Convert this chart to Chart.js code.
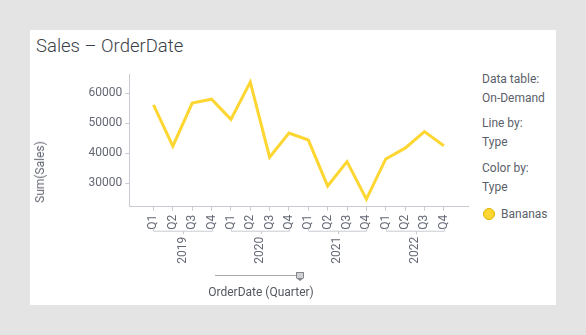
<!DOCTYPE html>
<html>
<head>
<meta charset="utf-8">
<script src="https://cdn.jsdelivr.net/npm/chart.js@4"></script>
<style>
    body { margin: 0; background: #e4e4e4; font-family: Roboto, "Noto Sans", sans-serif; }
    .panel { position: absolute; left: 30px; top: 30px; width: 526px; height: 275px; background: #fff; }
    .title { position: absolute; left: 6px; top: 5px; font-size: 18.5px; font-weight: 300; color: #3c3f48; }
    #chartBox { position: absolute; left: 0; top: 0; width: 450px; height: 260px; }
    .ytitle { position: absolute; left: 10px; top: 142px; font-size: 12px; color: #646874;
              transform: translate(-50%, -50%) rotate(-90deg); white-space: nowrap; }
    .legend { position: absolute; left: 452px; top: 0; font-size: 12px; color: #5b5f6a; }
    .legend div { position: absolute; white-space: nowrap; line-height: 14px; }
    .dot { width: 12px; height: 12px; border-radius: 50%; background: #fdd631; border: 1px solid #e0b400; box-sizing: border-box; }
    .slider-line { position: absolute; left: 185px; top: 245px; width: 82px; height: 1px; background: #a9a9a9; }
    .slider-handle { position: absolute; left: 266px; top: 242px; width: 6px; height: 5px; background: #cfd0d3;
                     border: 1px solid #85878c; border-bottom: none; border-radius: 1px 1px 0 0; }
    .slider-tip { position: absolute; left: 266px; top: 248px; width: 0; height: 0;
                  border-left: 4px solid transparent; border-right: 4px solid transparent; border-top: 3px solid #85878c; }
    .xtitle { position: absolute; left: 231px; top: 255px; transform: translateX(-50%); font-size: 12px; color: #555861; white-space: nowrap; }
</style>
</head>
<body>
<div class="panel">
    <div class="title">Sales – OrderDate</div>
    <div id="chartBox"><canvas id="salesChart" width="450" height="260"></canvas></div>
    <div class="ytitle">Sum(Sales)</div>
    <div class="legend">
        <div style="top:42px">Data table:</div>
        <div style="top:61px">On-Demand</div>
        <div style="top:86px">Line by:</div>
        <div style="top:105px">Type</div>
        <div style="top:131px">Color by:</div>
        <div style="top:150px">Type</div>
        <div class="dot" style="left:1px; top:178px"></div>
        <div style="left:19px; top:177px">Bananas</div>
    </div>
    <div class="slider-line"></div>
    <div class="slider-handle"></div>
    <div class="slider-tip"></div>
    <div class="xtitle">OrderDate (Quarter)</div>
</div>

<script>
const years = ["2019", "2020", "2021", "2022"];
const quarters = ["Q1", "Q2", "Q3", "Q4"];
const sales = [
    56100, 42400, 56700, 58000,
    51300, 63700, 38700, 46700,
    44400, 29100, 37200, 24700,
    38100, 41700, 47200, 42500
];
const yTicks = [30000, 40000, 50000, 60000];

const axisColor = "#c8cad2";
const textColor = "#646874";
const tickFont = { family: "Roboto", size: 12 };

const points = sales.map((v, i) => ({ x: i, y: v }));

// brackets under the quarter labels, one per year
const yearBrackets = {
    id: "yearBrackets",
    afterDraw(chart) {
        const ctx = chart.ctx;
        const x = chart.scales.x;
        const y = chart.chartArea.bottom + 24.5;
        ctx.save();
        ctx.strokeStyle = axisColor;
        ctx.lineWidth = 1;
        years.forEach((yr, i) => {
            const x0 = Math.round(x.getPixelForValue(i * 4)) + 0.5;
            const x1 = Math.round(x.getPixelForValue(i * 4 + 3)) + 0.5;
            const xm = Math.round((x0 + x1) / 2) + 0.5;
            ctx.beginPath();
            ctx.moveTo(x0, y - 3);
            ctx.lineTo(x0, y);
            ctx.lineTo(x1, y);
            ctx.lineTo(x1, y - 3);
            ctx.moveTo(xm, y);
            ctx.lineTo(xm, y + 3);
            ctx.stroke();
        });
        ctx.restore();
    }
};

new Chart(document.getElementById("salesChart"), {
    type: "line",
    data: {
        datasets: [{
            label: "Bananas",
            data: points,
            borderColor: "#fdd631",
            borderWidth: 3,
            pointRadius: 0,
            tension: 0
        }]
    },
    options: {
        responsive: false,
        animation: false,
        layout: { padding: { top: 44, right: 12, left: 0, bottom: 26.3 } },
        plugins: {
            legend: { display: false },
            tooltip: { enabled: false }
        },
        scales: {
            x: {
                type: "linear",
                position: "bottom",
                min: -1.25,
                max: 16.25,
                afterBuildTicks: axis => {
                    axis.ticks = sales.map((v, i) => ({ value: i }));
                },
                afterFit: axis => { axis.height = 27; },
                grid: { display: true, drawOnChartArea: false, color: axisColor, tickLength: 4 },
                border: { color: axisColor },
                ticks: {
                    autoSkip: false,
                    minRotation: 90,
                    maxRotation: 90,
                    padding: 4,
                    color: textColor,
                    font: tickFont,
                    callback: value => quarters[value % 4]
                }
            },
            year: {
                type: "linear",
                position: "bottom",
                axis: "x",
                min: -1.25,
                max: 16.25,
                afterBuildTicks: axis => {
                    axis.ticks = years.map((yr, i) => ({ value: i * 4 + 1.5 }));
                },
                afterFit: axis => { axis.height = 30; },
                grid: { display: false, drawTicks: false },
                border: { display: false },
                ticks: {
                    autoSkip: false,
                    minRotation: 90,
                    maxRotation: 90,
                    padding: 3,
                    color: textColor,
                    font: tickFont,
                    callback: value => years[(value - 1.5) / 4]
                }
            },
            y: {
                min: 22200,
                max: 66400,
                afterBuildTicks: axis => {
                    axis.ticks = yTicks.map(v => ({ value: v }));
                },
                afterFit: axis => { axis.width = 99.3; },
                grid: { display: true, drawOnChartArea: false, color: axisColor, tickLength: 4 },
                border: { color: axisColor },
                ticks: {
                    padding: 3,
                    color: textColor,
                    font: tickFont,
                    callback: value => String(value)
                }
            }
        }
    },
    plugins: [yearBrackets]
});
</script>
</body>
</html>
